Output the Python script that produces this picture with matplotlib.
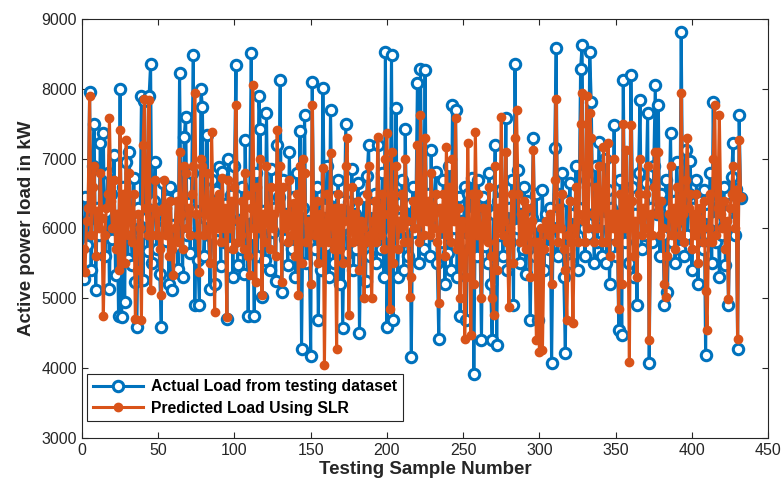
import matplotlib
matplotlib.use("Agg")
import matplotlib.pyplot as plt
import numpy as np

# load values (kW) for each test sample
actual_load = [
    5280, 6450, 5760, 6120, 7960, 5400, 6900, 7500, 5120, 6300, 5900, 7230,
    6050, 7360, 5600, 6240, 6800, 5140, 6500, 5850, 7050, 5330, 6180, 4740,
    8000, 4730, 6600, 4950, 6950, 5560, 7100, 6020, 5480, 6720, 5230, 4590,
    6300, 5900, 7890, 5260, 7820, 6150, 5680, 7900, 8350, 5500, 6400, 6950,
    5700, 6280, 5350, 4590, 6650, 6100, 5820, 6420, 5200, 6600, 5120, 6050,
    5750, 6480, 5420, 8220, 6200, 5310, 7310, 7600, 5900, 6360, 5650, 6800,
    8490, 4900, 6250, 5550, 4900, 8000, 7740, 5600, 6150, 7340, 5900, 5140,
    6700, 6250, 5200, 6540, 5980, 6880, 5460, 6810, 5800, 6350, 4710, 7000,
    5750, 6480, 5300, 6900, 8340, 5480, 6120, 5700, 6600, 5350, 7270, 6200,
    4740, 6400, 8510, 5900, 4740, 6800, 5600, 7890, 7430, 5020, 6250, 5550,
    7650, 6050, 5400, 6850, 5950, 6300, 5250, 7200, 6450, 8130, 5090, 6700,
    5850, 6200, 5480, 7100, 6000, 5700, 6450, 5300, 6800, 5900, 7390, 4280,
    6300, 7620, 5500, 6100, 5800, 4180, 8100, 6050, 5700, 6600, 4690, 6200,
    5400, 8010, 6300, 5750, 6900, 5300, 7700, 6100, 5500, 6450, 5850, 6700,
    5200, 6400, 4570, 6050, 7500, 5650, 6380, 5900, 6850, 5400, 6200, 5700,
    6650, 4500, 6100, 5800, 6450, 5250, 6750, 7190, 5600, 6300, 5950, 6500,
    5500, 7200, 6000, 5700, 6800, 5300, 8530, 4590, 6200, 5900, 8490, 4690,
    6500, 7720, 5300, 6150, 5800, 6700, 5400, 7430, 6000, 5600, 6350, 4160,
    6600, 5950, 6300, 8080, 5500, 8290, 6200, 5700, 8270, 6000, 6500, 5600,
    7120, 5900, 6300, 6810, 5500, 4420, 6400, 5800, 6700, 5200, 6150, 5650,
    6900, 5400, 7770, 6000, 7700, 5300, 6450, 4740, 6100, 5800, 6600, 4690,
    6500, 5700, 6200, 6720, 3920, 6300, 5600, 6690, 5900, 4400, 6450, 5750,
    6300, 5500, 6800, 5200, 4400, 6200, 7190, 4330, 6400, 5900, 6550, 5600,
    6100, 7580, 5400, 6300, 5800, 6700, 4900, 8350, 6000, 6840, 5500, 6200,
    5700, 6600, 5350, 6400, 5900, 4690, 6150, 7290, 5600, 6500, 4690, 6050,
    5800, 6550, 5400, 6200, 5950, 5700, 6300, 4070, 6000, 7150, 8590, 5600,
    6500, 5900, 6800, 5300, 4210, 6400, 5700, 6650, 5500, 6200, 5850, 6900,
    5400, 6300, 8290, 8630, 6000, 5600, 6700, 5900, 8530, 7815, 6200, 5500,
    6900, 5800, 7240, 6400, 5600, 6100, 7000, 5500, 6550, 5200, 6300, 5900,
    7480, 5600, 6200, 4540, 6700, 4470, 8130, 5800, 6500, 6200, 5500, 8200,
    6600, 5300, 6200, 4900, 6800, 7840, 5700, 6400, 5900, 6650, 7650, 4070,
    6300, 5800, 6900, 8050, 6200, 7770, 5600, 6500, 5900, 4900, 6700, 5090,
    6300, 7360, 5800, 6400, 5500, 6950, 6100, 5700, 8820, 6200, 5600, 7120,
    5900, 6500, 6960, 5400, 6300, 5800, 6700, 5200, 6400, 6000, 5700, 6550,
    4190, 6200, 5900, 6800, 5500, 7810, 6100, 5800, 6400, 5300, 6300, 5900,
    6600, 5475, 6200, 4900, 6350, 6740, 7220, 5900, 6570, 4280, 7620, 6430,
]

slr_load = [
    5700, 5380, 6100, 6300, 7890, 5900, 6600, 6900, 5600, 6250, 6000, 6800,
    6150, 4740, 5900, 6300, 6500, 7580, 6400, 6000, 6700, 5700, 6200, 5400,
    7410, 5500, 6500, 5500, 7270, 5900, 6800, 6100, 5800, 6500, 4710, 5400,
    6200, 6000, 4690, 7190, 7860, 6300, 5900, 7840, 5120, 5900, 6300, 6700,
    5900, 6250, 5700, 5045, 6300, 6690, 5900, 6300, 5600, 6400, 5700, 5330,
    6000, 6400, 5800, 7100, 6200, 5700, 6900, 6800, 6000, 6300, 5900, 6500,
    6900, 7940, 6200, 5900, 5380, 7000, 6900, 5900, 6200, 6800, 6000, 5500,
    7385, 6300, 4810, 6400, 6000, 6500, 5800, 6720, 6000, 6300, 4735, 6700,
    6000, 6400, 5700, 6600, 7770, 5800, 6100, 5900, 6400, 5700, 6800, 6480,
    5600, 5330, 6300, 8050, 6000, 5240, 6600, 6000, 7000, 5045, 6200, 5800,
    6900, 6100, 5700, 6600, 6000, 6200, 5600, 7410, 6300, 6900, 5240, 6600,
    6000, 6200, 5800, 6700, 6050, 5900, 6360, 5600, 6500, 5045, 6900, 5500,
    7000, 6800, 5800, 6100, 6000, 5200, 7770, 6100, 5900, 6400, 5500, 6200,
    5800, 6860, 4040, 6000, 6500, 5800, 7075, 6100, 5700, 6300, 4280, 6500,
    5700, 6300, 5500, 6100, 6900, 7290, 4760, 6100, 6600, 5800, 6200, 5900,
    6400, 5400, 6100, 6000, 5000, 5800, 6500, 6900, 5900, 5000, 6100, 6400,
    5800, 7310, 6000, 5900, 6500, 5700, 7000, 7360, 6200, 4850, 7100, 5500,
    6300, 6900, 5700, 6100, 6000, 6500, 5800, 7000, 6100, 5800, 5020, 5300,
    6400, 6000, 6200, 7200, 5800, 7620, 6100, 5900, 7300, 6100, 6400, 5900,
    6800, 6000, 6200, 6500, 5800, 4930, 6300, 6000, 6500, 5600, 7170, 5900,
    6600, 5800, 7000, 6100, 7580, 5700, 6300, 5000, 6100, 6000, 4420, 5300,
    7220, 5900, 4470, 6500, 5200, 7385, 5900, 6500, 6000, 5000, 6300, 5900,
    6200, 5800, 6600, 5600, 5000, 4760, 6900, 5400, 6300, 6000, 7600, 5900,
    6100, 7100, 5800, 4880, 6000, 6500, 5500, 7300, 7700, 6500, 5800, 6200,
    5900, 6400, 5700, 6300, 6000, 5300, 6100, 7120, 5800, 4400, 5800, 4230,
    6000, 4260, 5700, 6100, 6000, 5900, 6200, 5200, 6000, 6700, 7860, 5800,
    6300, 6000, 6500, 5700, 5400, 4690, 5900, 6400, 5800, 4640, 6000, 6600,
    5800, 6200, 7500, 7935, 6100, 5800, 7890, 6000, 7650, 7300, 6200, 5800,
    6600, 6000, 6900, 6300, 5800, 7170, 6500, 5800, 7220, 5600, 6200, 6000,
    7000, 5800, 6200, 4850, 6500, 5200, 7500, 6000, 7120, 6200, 4090, 7480,
    6400, 5600, 6100, 5300, 6500, 7000, 5900, 6300, 6000, 6500, 6900, 4400,
    6200, 5900, 6600, 7100, 6200, 7100, 5900, 6400, 6000, 5200, 5020, 5600,
    6200, 6900, 5900, 6300, 5700, 6600, 6100, 5900, 7935, 6200, 5800, 6700,
    7290, 6300, 6500, 5700, 6200, 5900, 6500, 5500, 6300, 6100, 5800, 6400,
    5100, 4540, 6000, 6500, 5800, 7000, 7770, 5900, 6300, 7630, 6200, 6000,
    6400, 5700, 6100, 4997, 6300, 6500, 6900, 6000, 6550, 4420, 7270, 6450,
]

assert len(actual_load) == len(slr_load) == 432

blue = "#0072BD"
orange = "#D95319"
axcol = "#262626"

plt.rcParams["font.family"] = ["Liberation Sans", "DejaVu Sans"]

fig = plt.figure(figsize=(7.83, 4.93), dpi=100)
ax = fig.add_axes([0.1047, 0.1116, 0.8763, 0.85])

samples = np.arange(1, len(actual_load) + 1)
ax.plot(samples, actual_load, color=blue, linewidth=2.2, marker="o",
        markersize=7.5, markerfacecolor="white", markeredgewidth=2.2,
        label="Actual Load from testing dataset")
ax.plot(samples, slr_load, color=orange, linewidth=2.2, marker="o",
        markersize=6, markerfacecolor=orange, markeredgewidth=1,
        label="Predicted Load Using SLR")

ax.set_xlim(0, 450)
ax.set_ylim(3000, 9000)
ax.set_xticks(np.arange(0, 451, 50))
ax.set_yticks(np.arange(3000, 9001, 1000))

ax.tick_params(direction="in", which="both", top=True, right=True,
               labelsize=11.5, colors=axcol, length=4, width=0.8)
for s in ax.spines.values():
    s.set_color(axcol)
    s.set_linewidth(0.8)

ax.set_xlabel("Testing Sample Number", fontsize=13.5, fontweight="bold",
              color=axcol, labelpad=2)
ax.set_ylabel("Active power load in kW", fontsize=13.5, fontweight="bold",
              color=axcol, labelpad=5)

leg = ax.legend(loc="lower left", bbox_to_anchor=(0.008, 0.04),
                prop={"weight": "bold", "size": 11.3}, fancybox=False,
                framealpha=1, edgecolor=axcol, borderpad=0.35,
                handlelength=3.2, labelspacing=0.4, handletextpad=0.5,
                borderaxespad=0)
leg.get_frame().set_linewidth(0.8)

fig.savefig("out.png", dpi=100)
